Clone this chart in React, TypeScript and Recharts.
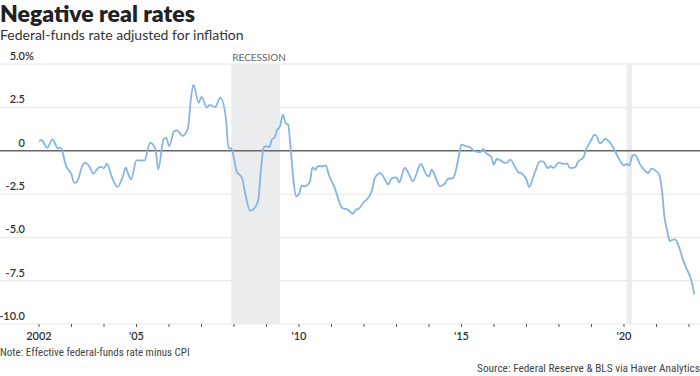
import React from 'react';
import {
  LineChart,
  Line,
  XAxis,
  YAxis,
  CartesianGrid,
  ReferenceArea,
  ReferenceLine
} from 'recharts';

const DATES = [
  '2002-01', '2002-02', '2002-04', '2002-06', '2002-08', '2002-09', '2002-11',
  '2003-01', '2003-02', '2003-03', '2003-05', '2003-06', '2003-08', '2003-09', '2003-11', '2003-12',
  '2004-01', '2004-02', '2004-04', '2004-06', '2004-08', '2004-09', '2004-10', '2004-11',
  '2005-01', '2005-04', '2005-06', '2005-08', '2005-09', '2005-11', '2005-12',
  '2006-01', '2006-03', '2006-04', '2006-06', '2006-08', '2006-09', '2006-10', '2006-12',
  '2007-01', '2007-03', '2007-04', '2007-06', '2007-08', '2007-10', '2007-11', '2007-12',
  '2008-02', '2008-04', '2008-05', '2008-07', '2008-09', '2008-10', '2008-11', '2008-12',
  '2009-01', '2009-02', '2009-03', '2009-04', '2009-05', '2009-06', '2009-07', '2009-08', '2009-09', '2009-10', '2009-11', '2009-12',
  '2010-01', '2010-02', '2010-03', '2010-05', '2010-06', '2010-07', '2010-08', '2010-10', '2010-11', '2010-12',
  '2011-02', '2011-05', '2011-07', '2011-09', '2011-10', '2011-11',
  '2012-01', '2012-02', '2012-04', '2012-05', '2012-07', '2012-09', '2012-10', '2012-11',
  '2013-01', '2013-02', '2013-04', '2013-06', '2013-07', '2013-10', '2013-12',
  '2014-01', '2014-02', '2014-04', '2014-05', '2014-07', '2014-08', '2014-10', '2014-11', '2014-12',
  '2015-01', '2015-03', '2015-04', '2015-06', '2015-08', '2015-09', '2015-10', '2015-12',
  '2016-01', '2016-02', '2016-04', '2016-05', '2016-06', '2016-07', '2016-09', '2016-10', '2016-11',
  '2017-01', '2017-02', '2017-04', '2017-06', '2017-07', '2017-09', '2017-10', '2017-11',
  '2018-01', '2018-03', '2018-04', '2018-05', '2018-07', '2018-08', '2018-10', '2018-11',
  '2019-01', '2019-02', '2019-03', '2019-04', '2019-05', '2019-06', '2019-08', '2019-09', '2019-11',
  '2020-01', '2020-02', '2020-03', '2020-04', '2020-05', '2020-07', '2020-09', '2020-10', '2020-11',
  '2021-01', '2021-02', '2021-03', '2021-04', '2021-05', '2021-06', '2021-07', '2021-08', '2021-09', '2021-11', '2021-12',
  '2022-02', '2022-03'
];

const REAL_RATE = [
  0.56, 0.6, 0.17, 0.65, 0.13, 0.17, -0.88,
  -1.37, -1.85, -1.79, -0.88, -0.69, -1.02, -1.33, -0.98, -0.94,
  -1.02, -0.75, -1.56, -2.09, -1.46, -0.98, -1.37, -1.66,
  -0.56, -0.56, 0.46, 0.08, -1.08, 0.65, 0.75,
  0.27, 1.14, 1.17, 0.85, 1.29, 2.87, 3.79, 2.77,
  3.1, 2.48, 2.64, 2.52, 3.06, 1.89, 0.16, 0.12,
  -1.19, -1.58, -2.35, -3.46, -3.21, -2.83, -1.0, 0.19,
  0.25, 0.21, 0.63, 0.77, 1.21, 1.4, 2.08, 1.6, 1.5, -0.04, -1.77, -2.64,
  -2.5, -2.0, -2.06, -1.81, -0.96, -1.1, -0.9, -0.9, -0.87, -1.38,
  -2.06, -3.31, -3.4, -3.65, -3.4, -3.36,
  -2.96, -2.83, -2.25, -1.58, -1.29, -1.73, -1.96, -1.62,
  -1.54, -1.83, -1.0, -1.48, -1.77, -0.77, -1.38,
  -1.48, -1.1, -1.77, -2.06, -1.87, -1.63, -1.58, -1.1, -0.33,
  0.35, 0.25, 0.21, -0.04, -0.08, 0.1, -0.13, -0.36,
  -0.81, -0.48, -0.62, -0.71, -0.67, -0.52, -1.0, -1.25, -1.29,
  -1.67, -2.1, -1.29, -0.62, -0.62, -1.0, -0.9, -1.0,
  -0.69, -0.77, -0.74, -1.0, -0.96, -0.65, -0.39, 0.06,
  0.63, 0.92, 0.83, 0.44, 0.5, 0.68, 0.44, 0.19, -0.42,
  -0.85, -0.77, -0.85, -0.33, -0.23, -0.81, -1.19, -1.29, -1.04,
  -1.19, -1.38, -2.25, -3.88, -4.65, -5.23, -5.13, -5.13, -5.42, -6.39, -6.77,
  -7.54, -8.31
];

const RECESSIONS = [
  { start: '2007-12', end: '2009-06', label: 'RECESSION' },
  { start: '2020-02', end: '2020-04', label: '' }
];

const Y_TICKS = [5, 2.5, 0, -2.5, -5, -7.5, -10];
const Y_LABELS = ['5.0', '2.5', '0', '-2.5', '-5.0', '-7.5', '-10.0'];

const X_TICKS = [
  2002, 2003, 2004, 2005, 2006, 2007, 2008, 2009, 2010, 2011, 2012,
  2013, 2014, 2015, 2016, 2017, 2018, 2019, 2020, 2021, 2022
];
const X_LABELS: Record<number, string> = {
  2002: '2002',
  2005: "'05",
  2010: "'10",
  2015: "'15",
  2020: "'20"
};

// 'YYYY-MM' -> fractional year so the x axis can be numeric
const toYear = (d: string) => {
  const [y, m] = d.split('-').map(Number);
  return y + (m - 1) / 12;
};

const data = DATES.map((d, i) => ({ t: toYear(d), value: REAL_RATE[i] }));

const LABEL_FONT = 'Lato, "Noto Sans", sans-serif';
const NARROW_FONT = '"Liberation Sans Narrow", "Roboto Condensed", Roboto, sans-serif';

function YTick(props: any) {
  const { y, payload } = props;
  const idx = Y_TICKS.indexOf(payload.value);
  const label = Y_LABELS[idx];
  return (
    <g>
      <text x={25} y={y - 4} textAnchor="end" fontSize={11} fontWeight={600} fill="#333" fontFamily={LABEL_FONT}>
        {label}
      </text>
      {idx === 0 && (
        <text x={25} y={y - 4} textAnchor="start" fontSize={11} fontWeight={600} fill="#333" fontFamily={LABEL_FONT}>
          %
        </text>
      )}
    </g>
  );
}

function XTick(props: any) {
  const { x, y, payload } = props;
  const label = X_LABELS[payload.value];
  if (!label) return <g />;
  return (
    <text x={x} y={y} dy={11} textAnchor="middle" fontSize={11} fontWeight={600} fill="#333" fontFamily={LABEL_FONT}>
      {label}
    </text>
  );
}

function RecessionLabel(props: any) {
  const { viewBox, value } = props;
  if (!value) return null;
  return (
    <text x={viewBox.x + 1} y={viewBox.y - 3} fontSize={10} fill="#666" fontFamily={LABEL_FONT}>
      {value}
    </text>
  );
}

export default function App() {
  return (
    <div style={{ position: 'absolute', left: 0, top: 0, width: 700, height: 376, background: '#fff' }}>
      <div style={{ position: 'absolute', left: 0, top: -1, fontFamily: LABEL_FONT, fontWeight: 800, fontSize: 23, color: '#222', whiteSpace: 'nowrap' }}>
        Negative real rates
      </div>
      <div style={{ position: 'absolute', left: 0, top: 26, fontFamily: LABEL_FONT, fontSize: 14, color: '#333', whiteSpace: 'nowrap' }}>
        Federal-funds rate adjusted for inflation
      </div>
      <LineChart width={700} height={376} data={data} margin={{ top: 64, right: 0, bottom: 22, left: -30 }}>
        <CartesianGrid horizontal vertical={false} stroke="#e6e6e6" strokeDasharray="" />
        {RECESSIONS.map((r) => (
          <ReferenceArea
            key={r.start}
            x1={toYear(r.start)}
            x2={toYear(r.end)}
            fill="#ebecee"
            fillOpacity={1}
            stroke="none"
            label={<RecessionLabel value={r.label} />}
          />
        ))}
        <ReferenceLine y={0} stroke="#666" strokeWidth={1.5} />
        <XAxis
          dataKey="t"
          type="number"
          domain={[2000.8, 2022.34]}
          ticks={X_TICKS}
          height={30}
          axisLine={false}
          tickLine={{ stroke: '#555' }}
          tickSize={3}
          tick={<XTick />}
          interval={0}
          allowDataOverflow
        />
        <YAxis
          type="number"
          domain={[-10, 5]}
          ticks={Y_TICKS}
          width={30}
          axisLine={false}
          tickLine={false}
          tick={<YTick />}
          interval={0}
        />
        <Line
          type="monotone"
          dataKey="value"
          stroke="#85b5e5"
          strokeWidth={1.8}
          dot={false}
          isAnimationActive={false}
        />
      </LineChart>
      <div style={{ position: 'absolute', left: 0, top: 346, fontFamily: NARROW_FONT, fontSize: 11, color: '#444', whiteSpace: 'nowrap' }}>
        Note: Effective federal-funds rate minus CPI
      </div>
      <div style={{ position: 'absolute', right: 0, top: 362, fontFamily: NARROW_FONT, fontSize: 11.3, color: '#444', whiteSpace: 'nowrap' }}>
        Source: Federal Reserve &amp; BLS via Haver Analytics
      </div>
    </div>
  );
}
